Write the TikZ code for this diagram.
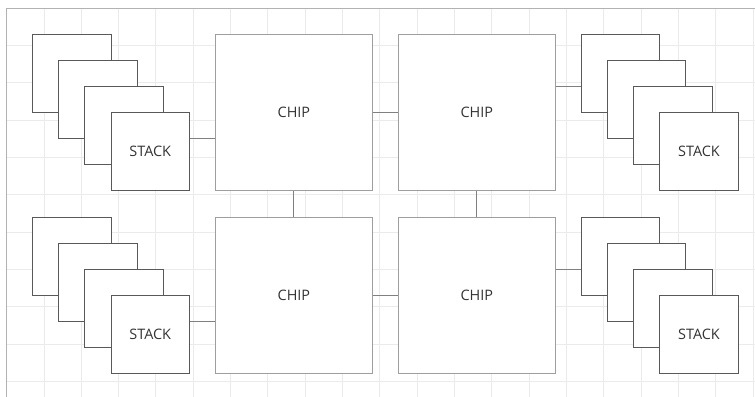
\documentclass[tikz,border=0pt]{standalone}
\usepackage{fontspec}
\setsansfont{Open Sans}
\tikzset{
  stackbox/.style={draw=black!65, fill=white, line width=0.7pt, minimum size=2.1cm,
    inner sep=0pt, font=\sffamily\fontsize{11}{13}\selectfont, text=black!80},
  chipbox/.style={draw=black!38, fill=white, line width=0.7pt, minimum size=4.2cm,
    inner sep=0pt, font=\sffamily\fontsize{11}{13}\selectfont, text=black!80},
  link/.style={draw=black!50, line width=0.7pt},
}
\begin{document}
\begin{tikzpicture}[x=0.7cm, y=-0.7cm]
  \useasboundingbox (-0.249,-0.306) rectangle (28.645,14.887);
  % background grid and frame
  \fill[white] (-0.249,-0.306) rectangle (28.645,14.887);
  \draw[black!8, line width=0.5pt] (0,0) grid (28.645,14.887);
  \draw[black!30, line width=0.7pt] (0,14.887) -- (0,0) -- (28.645,0);

  % top left stack
  \node[stackbox] (sTL1) at (2.5,2.5) {};
  \node[stackbox] (sTL2) at (3.5,3.5) {};
  \node[stackbox] (sTL3) at (4.5,4.5) {};
  \node[stackbox] (sTL4) at (5.5,5.5) {STACK};
  % bottom left stack
  \node[stackbox] (sBL1) at (2.5,9.5) {};
  \node[stackbox] (sBL2) at (3.5,10.5) {};
  \node[stackbox] (sBL3) at (4.5,11.5) {};
  \node[stackbox] (sBL4) at (5.5,12.5) {STACK};
  % top right stack
  \node[stackbox] (sTR1) at (23.5,2.5) {};
  \node[stackbox] (sTR2) at (24.5,3.5) {};
  \node[stackbox] (sTR3) at (25.5,4.5) {};
  \node[stackbox] (sTR4) at (26.5,5.5) {STACK};
  % bottom right stack
  \node[stackbox] (sBR1) at (23.5,9.5) {};
  \node[stackbox] (sBR2) at (24.5,10.5) {};
  \node[stackbox] (sBR3) at (25.5,11.5) {};
  \node[stackbox] (sBR4) at (26.5,12.5) {STACK};

  % chips
  \node[chipbox] (chipA) at (11,4) {CHIP};
  \node[chipbox] (chipB) at (18,4) {CHIP};
  \node[chipbox] (chipC) at (11,11) {CHIP};
  \node[chipbox] (chipD) at (18,11) {CHIP};

  % links
  \draw[link] (sTL4.east |- 0,5) -- (chipA.west |- 0,5);
  \draw[link] (sBL4.east |- 0,12) -- (chipC.west |- 0,12);
  \draw[link] (chipB.east |- 0,3) -- (sTR1.west |- 0,3);
  \draw[link] (chipD.east |- 0,10) -- (sBR1.west |- 0,10);
  \draw[link] (chipA) -- (chipB);
  \draw[link] (chipC) -- (chipD);
  \draw[link] (chipA) -- (chipC);
  \draw[link] (chipB) -- (chipD);
\end{tikzpicture}
\end{document}
